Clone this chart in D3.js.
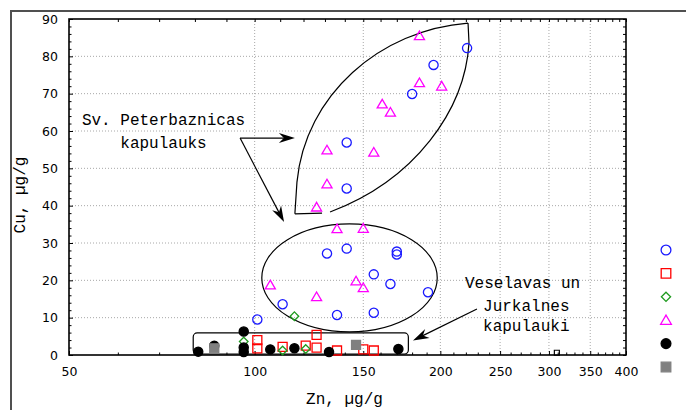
<!DOCTYPE html>
<html>
<head>
<meta charset="utf-8">
<script src="https://cdn.jsdelivr.net/npm/d3@7"></script>
<style>
body { margin: 0; background: #fff; }
svg { display: block; }
</style>
</head>
<body>
<svg id="chart" width="686" height="410"></svg>
<script>
// axis ticks
const xTicks = [50, 100, 150, 200, 250, 300, 350, 400];
const yTicks = [0, 10, 20, 30, 40, 50, 60, 70, 80, 90];

// points: [Zn, Cu]
const circlesBlue = [[221, 82.2], [195, 77.7], [180, 69.9], [141, 56.9], [141, 44.6],
  [131, 27.2], [141, 28.5], [170, 27.7], [170, 26.9], [156, 21.6], [166, 19.0],
  [191, 16.8], [111, 13.6], [136, 10.7], [156, 11.3], [101, 9.5]];
const squaresRed = [[101, 4.0], [101, 1.8], [111, 2.2], [121, 2.5], [126, 5.4],
  [126, 2.0], [136, 1.2], [150, 1.5], [156, 1.2]];
const diamondsGreen = [[96, 3.6], [111, 1.2], [121, 1.6], [116, 10.4]];
const trianglesMagenta = [[185, 85.5], [185, 72.9], [201, 72.0], [161, 67.2], [166, 65.0],
  [131, 54.9], [156, 54.3], [131, 45.8], [126, 39.6], [136, 33.8], [150, 33.9],
  [106, 18.75], [146, 19.8], [150, 18.0], [126, 15.6]];
const dotsBlack = [[81, 0.9], [86, 2.5], [96, 6.3], [96, 2.0], [96, 0.8], [106, 1.5],
  [116, 1.8], [132, 0.8], [171, 1.6]];
const squaresGray = [[86, 1.8], [146, 2.7]];
const smallSquares = [[309, 0.6]];

// annotation geometry, in data units [Zn, Cu]
const leafLeft = [[116.2, 37.8], [117.1, 46.3], [120.7, 69.6], [159.7, 87.1], [221.8, 88.9]];
const leafRight = [[221.8, 88.9], [222.6, 83.6], [219.3, 65.6], [182.0, 46.9], [132.5, 38.3]];
const leafBottom = [[128.6, 38.0], [116.2, 37.8]];
const ovalBox = [[102.7, 6.2], [197.7, 35.1]];
const lowBox = [[79.5, 0.27], [177.5, 5.9]];
const arrows = [
  [[94.7, 58.1], [116.2, 58.1]],
  [[94.7, 58.1], [111.6, 35.6]],
  [[229.3, 12.3], [180.6, 3.9]]
];
const labelsMid = [{ t: "Sv. Peterbaznicas", p: [71.15, 61.6] }, { t: "kapulauks", p: [71.15, 55.45] }];
const labelsStart = [{ t: "Veselavas un", p: [219.3, 17.95] }, { t: "Jurkalnes", p: [234.6, 11.9] },
  { t: "kapulauki", p: [234.6, 6.43] }];

const margin = { left: 69, right: 60, top: 19, bottom: 55 };
const width = 686, height = 410;

const svg = d3.select("#chart");

const x = d3.scaleLog().domain([50, 400]).range([margin.left, width - margin.right]);
const y = d3.scaleLinear().domain([0, 90]).range([height - margin.bottom, margin.top]);

const mono = "'Liberation Mono', 'Courier New', monospace";
const sans = "'DejaVu Sans', Verdana, sans-serif";

// outer frame (partly cut off)
svg.append("path")
  .attr("d", "M11,410 L11,11 L686,11")
  .attr("fill", "none").attr("stroke", "#505050").attr("stroke-width", 2);

// grid
svg.append("g").selectAll("line").data(xTicks.slice(1, -1)).join("line")
  .attr("x1", d => x(d)).attr("x2", d => x(d))
  .attr("y1", y(0)).attr("y2", y(90))
  .attr("stroke", "#a8a8a8").attr("stroke-dasharray", "1,2");
svg.append("g").selectAll("line").data(yTicks.slice(1, -1)).join("line")
  .attr("y1", d => y(d)).attr("y2", d => y(d))
  .attr("x1", x(50)).attr("x2", x(400))
  .attr("stroke", "#a8a8a8").attr("stroke-dasharray", "1,2");

// axes
const xMinor = d3.range(60, 400, 10).filter(v => v % 50 !== 0);
const yMinor = d3.range(0, 91, 2).filter(v => v % 10 !== 0);

function styleAxis(g) {
  g.select(".domain").remove();
  g.selectAll("text").attr("font-family", sans).attr("font-size", 12.5).attr("fill", "#000");
}

svg.append("g").attr("transform", `translate(0,${y(0)})`)
  .call(d3.axisBottom(x).tickValues(xTicks).tickSize(-4).tickSizeOuter(0).tickPadding(12).tickFormat(d3.format("d")))
  .call(styleAxis);
svg.append("g").attr("transform", `translate(0,${y(0)})`)
  .call(d3.axisBottom(x).tickValues(xMinor).tickSize(-2.5).tickSizeOuter(0).tickFormat(""))
  .call(styleAxis);
svg.append("g").attr("transform", `translate(0,${y(90)})`)
  .call(d3.axisTop(x).tickValues(xTicks.concat(xMinor)).tickSize(-3).tickSizeOuter(0).tickFormat(""))
  .call(styleAxis);

svg.append("g").attr("transform", `translate(${x(50)},0)`)
  .call(d3.axisLeft(y).tickValues(yTicks).tickSize(-4).tickSizeOuter(0).tickPadding(11))
  .call(styleAxis);
svg.append("g").attr("transform", `translate(${x(50)},0)`)
  .call(d3.axisLeft(y).tickValues(yMinor).tickSize(-2.5).tickSizeOuter(0).tickFormat(""))
  .call(styleAxis);
svg.append("g").attr("transform", `translate(${x(400)},0)`)
  .call(d3.axisRight(y).tickValues(yTicks.concat(yMinor)).tickSize(-3).tickSizeOuter(0).tickFormat(""))
  .call(styleAxis);

// plot frame
svg.append("rect")
  .attr("x", x(50)).attr("y", y(90))
  .attr("width", x(400) - x(50)).attr("height", y(0) - y(90))
  .attr("fill", "none").attr("stroke", "#000").attr("stroke-width", 1.6);

// axis titles
svg.append("text").attr("x", (x(50) + x(400)) / 2 - 3).attr("y", 404)
  .attr("text-anchor", "middle").attr("font-family", mono).attr("font-size", 16)
  .text("Zn, µg/g");
svg.append("text").attr("transform", "translate(25,195) rotate(-90)")
  .attr("text-anchor", "middle").attr("font-family", mono).attr("font-size", 16)
  .text("Cu, µg/g");

// annotations
const P = d => [x(d[0]), y(d[1])];
const ann = svg.append("g").attr("fill", "none").attr("stroke", "#000").attr("stroke-width", 1.2);

const lp = d3.path();
let q = leafLeft.map(P);
lp.moveTo(...q[0]); lp.lineTo(...q[1]);
lp.bezierCurveTo(...q[2], ...q[3], ...q[4]);
q = leafRight.map(P);
lp.moveTo(...q[0]); lp.lineTo(...q[1]);
lp.bezierCurveTo(...q[2], ...q[3], ...q[4]);
q = leafBottom.map(P);
lp.moveTo(...q[0]); lp.lineTo(...q[1]);
ann.append("path").attr("d", lp.toString());

const e0 = P(ovalBox[0]), e1 = P(ovalBox[1]);
ann.append("ellipse")
  .attr("cx", (e0[0] + e1[0]) / 2).attr("cy", (e0[1] + e1[1]) / 2)
  .attr("rx", Math.abs(e1[0] - e0[0]) / 2).attr("ry", Math.abs(e1[1] - e0[1]) / 2);

const b0 = P(lowBox[0]), b1 = P(lowBox[1]);
ann.append("rect")
  .attr("x", b0[0]).attr("y", b1[1])
  .attr("width", b1[0] - b0[0]).attr("height", b0[1] - b1[1])
  .attr("rx", 4).attr("ry", 4);

arrows.forEach(a => {
  const [s, t] = a.map(P);
  const L = Math.hypot(t[0] - s[0], t[1] - s[1]);
  const ux = (t[0] - s[0]) / L, uy = (t[1] - s[1]) / L;
  const nx = -uy, ny = ux;
  const hl = 16, hw = 5, notch = 11;
  ann.append("line")
    .attr("x1", s[0]).attr("y1", s[1])
    .attr("x2", t[0] - ux * notch).attr("y2", t[1] - uy * notch);
  const head = [
    t,
    [t[0] - ux * hl + nx * hw, t[1] - uy * hl + ny * hw],
    [t[0] - ux * notch, t[1] - uy * notch],
    [t[0] - ux * hl - nx * hw, t[1] - uy * hl - ny * hw]
  ];
  svg.append("path").attr("d", "M" + head.join("L") + "Z").attr("fill", "#000");
});

svg.append("g").selectAll("text").data(labelsMid).join("text")
  .attr("x", d => x(d.p[0])).attr("y", d => y(d.p[1]))
  .attr("text-anchor", "middle").attr("font-family", mono).attr("font-size", 16)
  .text(d => d.t);
svg.append("g").selectAll("text").data(labelsStart).join("text")
  .attr("x", d => x(d.p[0])).attr("y", d => y(d.p[1]))
  .attr("font-family", mono).attr("font-size", 16)
  .text(d => d.t);

// markers
function shapePath(shape, s) {
  const p = d3.path();
  if (shape === "circle") { p.moveTo(s, 0); p.arc(0, 0, s, 0, 2 * Math.PI); }
  else if (shape === "square") { p.rect(-s, -s, 2 * s, 2 * s); }
  else if (shape === "diamond") { p.moveTo(0, -s); p.lineTo(s, 0); p.lineTo(0, s); p.lineTo(-s, 0); p.closePath(); }
  else if (shape === "triangle") { p.moveTo(0, -s); p.lineTo(s * 1.05, s * 0.8); p.lineTo(-s * 1.05, s * 0.8); p.closePath(); }
  return p.toString();
}

const series = [
  { data: circlesBlue, shape: "circle", size: 4.6, fill: "none", stroke: "#1a1aff" },
  { data: squaresRed, shape: "square", size: 4.5, fill: "none", stroke: "#ff0000" },
  { data: diamondsGreen, shape: "diamond", size: 4.3, fill: "none", stroke: "#1e9a1e" },
  { data: trianglesMagenta, shape: "triangle", size: 4.8, fill: "none", stroke: "#ff00ff" },
  { data: dotsBlack, shape: "circle", size: 4.6, fill: "#000", stroke: "#000" },
  { data: squaresGray, shape: "square", size: 4.5, fill: "#808080", stroke: "#808080" }
];

series.forEach(s => {
  svg.append("g").selectAll("path").data(s.data).join("path")
    .attr("d", shapePath(s.shape, s.size))
    .attr("transform", d => `translate(${x(d[0])},${y(d[1])})`)
    .attr("fill", s.fill).attr("stroke", s.stroke).attr("stroke-width", 1.3);
});
svg.append("g").selectAll("path").data(smallSquares).join("path")
  .attr("d", shapePath("square", 2.5))
  .attr("transform", d => `translate(${x(d[0])},${y(d[1])})`)
  .attr("fill", "none").attr("stroke", "#000").attr("stroke-width", 1.2);

// legend symbols (their labels lie beyond the picture's right edge)
const legend = svg.append("g").attr("transform", "translate(666,250)");
series.forEach((s, i) => {
  legend.append("path").attr("d", shapePath(s.shape, s.size + 0.3))
    .attr("transform", `translate(0,${i * 23.4})`)
    .attr("fill", s.fill).attr("stroke", s.stroke).attr("stroke-width", 1.3);
});
</script>
</body>
</html>
